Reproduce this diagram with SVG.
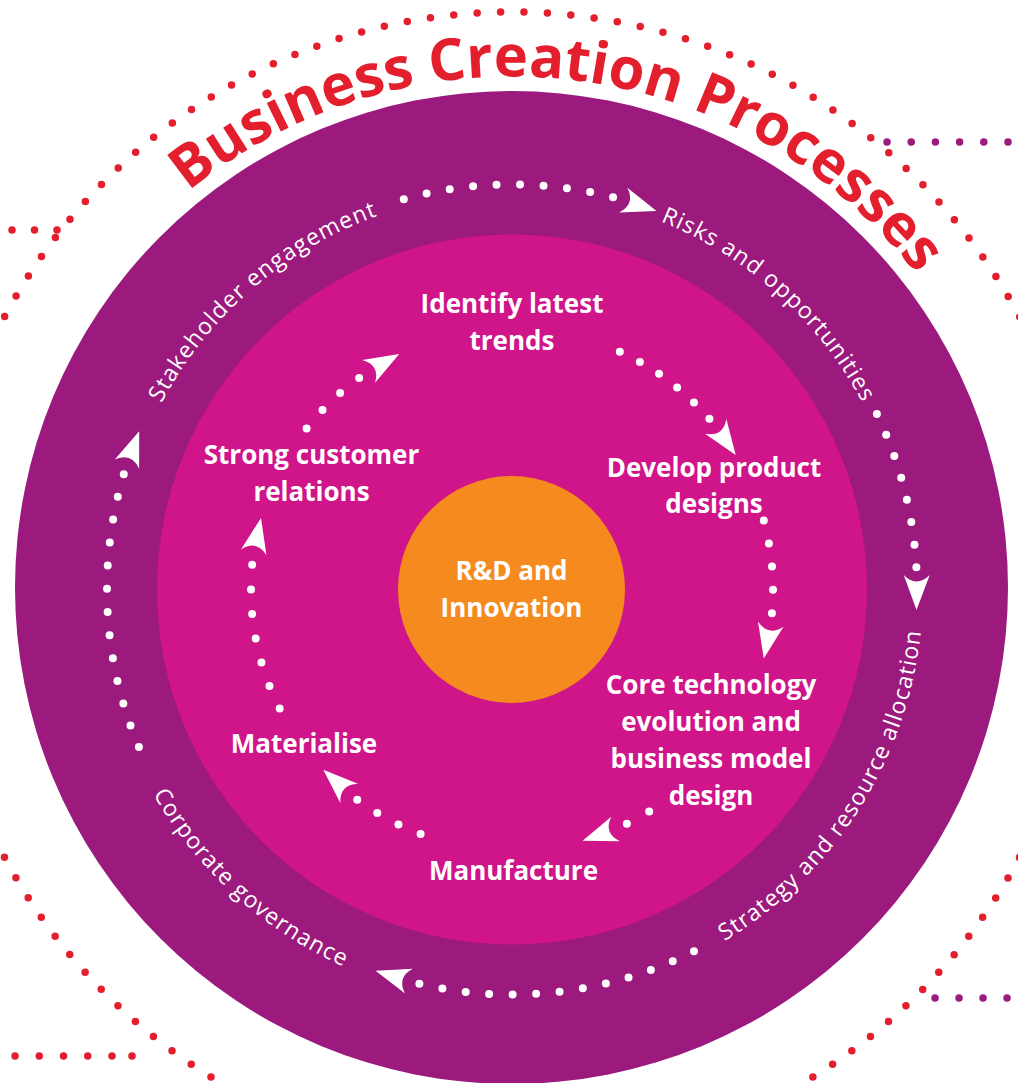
<svg xmlns="http://www.w3.org/2000/svg" width="1018" height="1083" viewBox="0 0 1018 1083">
<style>
.lbl{font-family:"Open Sans","Liberation Sans",sans-serif;font-weight:700;font-size:26px;fill:#fff;text-anchor:middle}
.ring{font-family:"Open Sans","Liberation Sans",sans-serif;font-weight:400;font-size:23px;fill:#fff;letter-spacing:1.1px}
.title{font-family:"Open Sans","Liberation Sans",sans-serif;font-weight:700;font-size:58px;fill:#E31E2D}
.wd{fill:none;stroke:#fff;stroke-width:8;stroke-linecap:round}
.rd{fill:none;stroke:#E31E2D;stroke-width:7.5;stroke-linecap:round}
.pd{fill:none;stroke:#9C1A7D;stroke-width:7.5;stroke-linecap:round}
.ah{fill:#fff}
</style>
<defs>
<path id="ah" d="M0,0 L-35,-13 Q-22,0 -35,13 Z"/>
<path id="pTitle" d="M6.8,500.4 A513,513 0 0 1 1024.3,616.4"/>
<path id="pStake" d="M116.0,560.8 A397,397 0 0 1 540.7,193.5"/>
<path id="pRisk" d="M491.2,193.0 A397,397 0 0 1 908.5,568.7"/>
<path id="pStrat" d="M602.4,990.4 A411,411 0 0 0 912.9,499.1"/>
<path id="pCorp" d="M99.5,610.0 A413,413 0 0 0 532.5,1002.0"/>
</defs>
<rect width="1018" height="1083" fill="#fff"/>

<g id="decor">
<circle cx="512" cy="587" r="575" class="rd" stroke-dasharray="0 23.46"/>
<path d="M12,230 H58" class="rd" stroke-dasharray="0 22.5"/>
<path d="M887,142 H1012" class="pd" stroke-dasharray="0 24.2"/>
<path d="M15,1056 H113" class="rd" stroke-dasharray="0 24.25"/>
<circle cx="132" cy="1056" r="3.75" fill="#E31E2D"/>
<path d="M935,998 H1010" class="pd" stroke-dasharray="0 24"/>
</g>

<g id="title">
<text class="title"><textPath href="#pTitle" startOffset="50%" text-anchor="middle">Business Creation Processes</textPath></text>
</g>

<g id="outer-ring">
<circle cx="511.5" cy="587.5" r="496.5" fill="#9C1A7D"/>
</g>
<g id="inner-ring">
<circle cx="512" cy="589.5" r="355" fill="#D01489"/>
</g>

<g id="ring-labels">
<g id="stakeholder"><text class="ring"><textPath href="#pStake" startOffset="50%" text-anchor="middle">Stakeholder engagement</textPath></text></g>
<g id="risks"><text class="ring"><textPath href="#pRisk" startOffset="50%" text-anchor="middle">Risks and opportunities</textPath></text></g>
<g id="strategy"><text class="ring"><textPath href="#pStrat" startOffset="50%" text-anchor="middle">Strategy and resource allocation</textPath></text></g>
<g id="governance"><text class="ring"><textPath href="#pCorp" startOffset="50%" text-anchor="middle">Corporate governance</textPath></text></g>
</g>

<g id="connectors">
<path class="wd" stroke-dasharray="0 23.51" d="M403.8,199.2 A405,405 0 0 1 613.4,197.4"/>
<path class="wd" stroke-dasharray="0 22.77" d="M876.9,413.9 A405,405 0 0 1 916.4,567.6"/>
<path class="wd" stroke-dasharray="0 23.51" d="M694.0,951.3 A405,405 0 0 1 418.8,983.7"/>
<path class="wd" stroke-dasharray="0 23.22" d="M138.9,747.1 A405,405 0 0 1 123.9,473.8"/>
<path class="wd" stroke-dasharray="0 22.54" d="M619.8,351.8 A261,261 0 0 1 709.6,419.0"/>
<path class="wd" stroke-dasharray="0 23.35" d="M763.8,520.6 A261,261 0 0 1 771.9,613.4"/>
<path class="wd" stroke-dasharray="0 25.46" d="M649.2,811.6 A261,261 0 0 1 626.8,823.9"/>
<path class="wd" stroke-dasharray="0 24.09" d="M420.6,834.0 A261,261 0 0 1 357.1,799.6"/>
<path class="wd" stroke-dasharray="0 24.70" d="M279.7,708.4 A261,261 0 0 1 252.2,564.5"/>
<path class="wd" stroke-dasharray="0 24.40" d="M306.6,428.5 A261,261 0 0 1 359.3,377.8"/>
<use href="#ah" class="ah" transform="translate(656.5,211.1) rotate(18.4)"/>
<use href="#ah" class="ah" transform="translate(916.5,610.0) rotate(90.4)"/>
<use href="#ah" class="ah" transform="translate(375.5,970.8) rotate(197.2)"/>
<use href="#ah" class="ah" transform="translate(139.2,431.3) rotate(290.5)"/>
<use href="#ah" class="ah" transform="translate(735.7,455.1) rotate(55.15)"/>
<use href="#ah" class="ah" transform="translate(763.8,658.4) rotate(101.45)"/>
<use href="#ah" class="ah" transform="translate(582.6,840.8) rotate(160.45)"/>
<use href="#ah" class="ah" transform="translate(323.3,769.8) rotate(222.45)"/>
<use href="#ah" class="ah" transform="translate(261.0,518.0) rotate(282.05)"/>
<use href="#ah" class="ah" transform="translate(399.2,354.1) rotate(330.55)"/>
</g>

<g id="center">
<circle cx="511.5" cy="589.5" r="113.5" fill="#F58A1F"/>
<text class="lbl" x="511.5" y="580">R&amp;D and</text>
<text class="lbl" x="511.5" y="617">Innovation</text>
</g>
<g id="identify">
<text class="lbl" x="512" y="313">Identify latest</text>
<text class="lbl" x="512" y="350">trends</text>
</g>
<g id="develop">
<text class="lbl" x="714" y="477">Develop product</text>
<text class="lbl" x="714" y="513">designs</text>
</g>
<g id="core">
<text class="lbl" x="711" y="694">Core technology</text>
<text class="lbl" x="711" y="731">evolution and</text>
<text class="lbl" x="711" y="768">business model</text>
<text class="lbl" x="711" y="805">design</text>
</g>
<g id="manufacture">
<text class="lbl" x="513.5" y="880">Manufacture</text>
</g>
<g id="materialise">
<text class="lbl" x="304" y="753">Materialise</text>
</g>
<g id="strong">
<text class="lbl" x="311.5" y="464">Strong customer</text>
<text class="lbl" x="311.5" y="501">relations</text>
</g>
</svg>
